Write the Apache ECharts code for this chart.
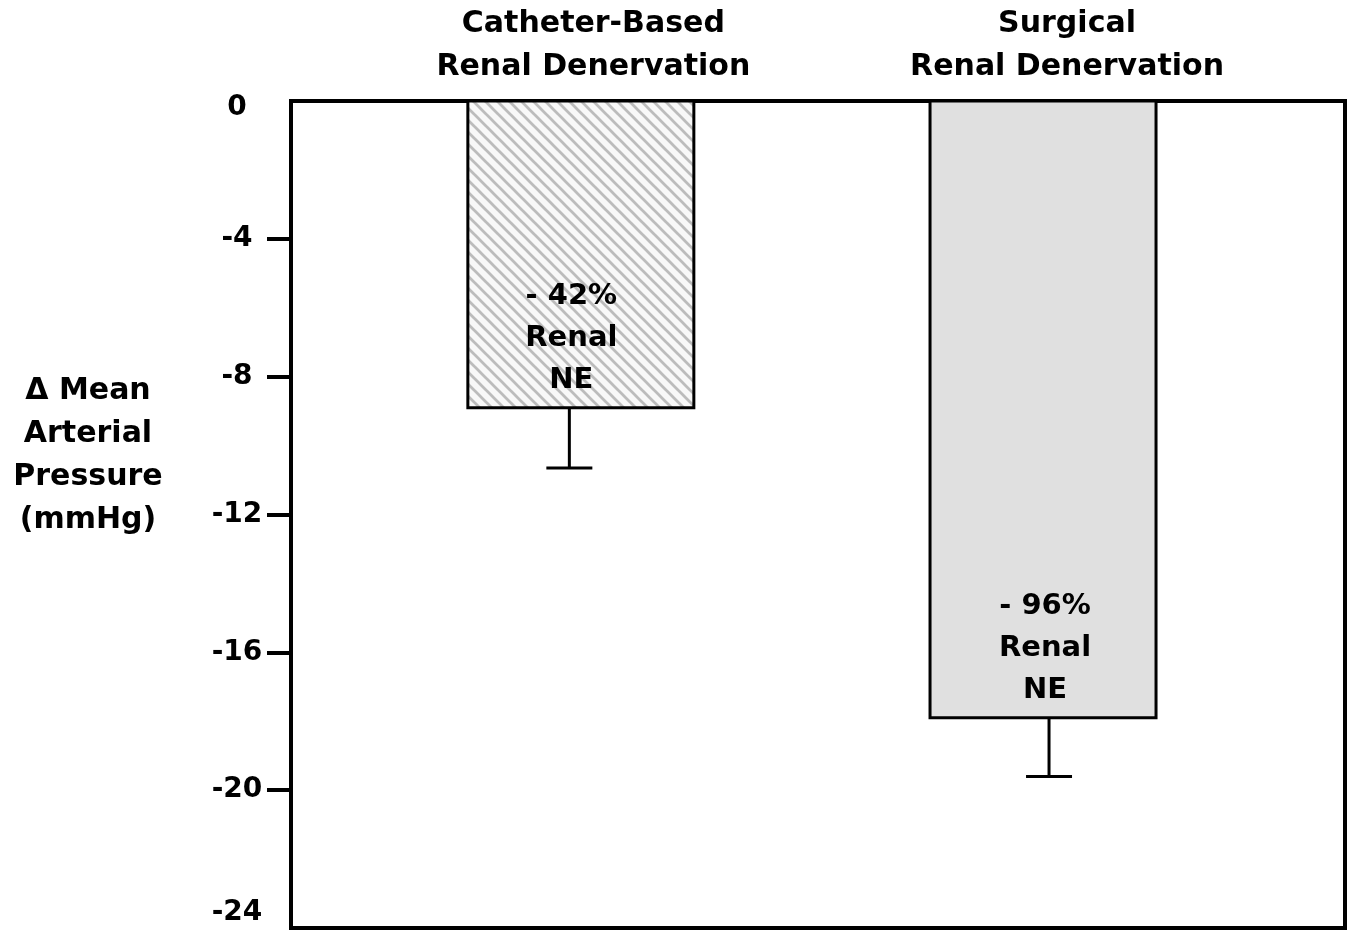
<!DOCTYPE html>
<html>
<head>
<meta charset="utf-8">
<script src="https://cdn.jsdelivr.net/npm/echarts@6/dist/echarts.min.js"></script>
<style>
  html, body { margin: 0; padding: 0; background: #fff; }
  #chart { width: 1350px; height: 930px; }
</style>
</head>
<body>
<div id="chart"></div>
<script>
// Groups shown along the top of the plot
const categories = ['Catheter-Based\nRenal Denervation', 'Surgical\nRenal Denervation'];
// Bar centres on the hidden 0–100 horizontal scale
const groupPos = [27.5, 71.35];
// Change in mean arterial pressure (mmHg) and its error (mmHg)
const meanChange = [-8.9, -17.9];
const errorSize = [1.75, 1.7];
// Reduction of renal norepinephrine written inside each bar
const neReduction = ['- 42%', '- 96%'];
// Y-axis tick values
const yTicks = [0, -4, -8, -12, -16, -20, -24];

const FONT = '"DejaVu Sans", "Liberation Sans", Arial, sans-serif';

// Per-bar pixel nudges for the error bar, inner label and group heading
const layout = {
  barWidth: 226,
  errShift: [-11.5, 6],
  labelShift: [-9.5, 2],
  headShift: [12.5, 24],
  capWidth: 46
};

// Diagonal hatch fill for the catheter-based bar
function hatchPattern() {
  const s = 12;
  const c = document.createElement('canvas');
  c.width = s; c.height = s;
  const g = c.getContext('2d');
  g.fillStyle = '#f8f8f8';
  g.fillRect(0, 0, s, s);
  g.strokeStyle = '#bcbcbc';
  g.lineWidth = 2.7;
  for (const o of [-s, 0, s]) {
    g.beginPath();
    g.moveTo(o - 2, -2);
    g.lineTo(o + s + 2, s + 2);
    g.stroke();
  }
  return c;
}
const fills = [{ image: hatchPattern(), repeat: 'repeat' }, '#e0e0e0'];

const seriesData = categories.map((c, i) => [groupPos[i], meanChange[i], errorSize[i]]);

const chart = echarts.init(document.getElementById('chart'), null, { renderer: 'canvas' });

chart.setOption({
  backgroundColor: '#ffffff',
  animation: false,
  title: {
    text: 'Δ Mean\nArterial\nPressure\n(mmHg)',
    left: 88,
    top: 456,
    padding: 0,
    textAlign: 'center',
    textVerticalAlign: 'middle',
    textStyle: { fontFamily: FONT, fontWeight: 'bold', fontSize: 30, lineHeight: 43, color: '#000' }
  },
  grid: {
    left: 291, top: 101, right: 5, bottom: 2,
    show: true,
    borderWidth: 4,
    borderColor: '#000',
    backgroundColor: 'transparent'
  },
  xAxis: {
    type: 'value', min: 0, max: 100, show: false
  },
  yAxis: {
    type: 'value',
    min: yTicks[yTicks.length - 1],
    max: yTicks[0],
    interval: 4,
    splitLine: { show: false },
    axisLine: { show: false },
    axisTick: {
      show: true, inside: false, length: 24,
      customValues: yTicks.slice(1, -1),
      lineStyle: { color: '#000', width: 4 }
    },
    axisLabel: {
      customValues: yTicks,
      align: 'center',
      margin: 54,
      fontFamily: FONT, fontWeight: 'bold', fontSize: 28, color: '#000',
      formatter: function (v) {
        if (v === yTicks[0]) return '{top|' + v + '}';
        if (v === yTicks[yTicks.length - 1]) return '{bot|' + v + '}';
        return String(v);
      },
      rich: {
        top: { fontFamily: FONT, fontWeight: 'bold', fontSize: 28, color: '#000', padding: [14, 0, 0, 0] },
        bot: { fontFamily: FONT, fontWeight: 'bold', fontSize: 28, color: '#000', padding: [0, 0, 30, 0] }
      }
    }
  },
  series: [{
    type: 'custom',
    clip: false,
    data: seriesData,
    renderItem: function (params, api) {
      const i = params.dataIndex;
      const x = api.value(0);
      const y = api.value(1);
      const err = api.value(2);
      const base = api.coord([x, 0]);
      const end = api.coord([x, y]);
      const errEnd = api.coord([x, y - err]);
      const w = layout.barWidth;
      const ex = end[0] + layout.errShift[i];
      return {
        type: 'group',
        children: [
          {
            type: 'line',
            shape: { x1: ex, y1: end[1], x2: ex, y2: errEnd[1] },
            style: { stroke: '#000', lineWidth: 3 }
          },
          {
            type: 'line',
            shape: { x1: ex - layout.capWidth / 2, y1: errEnd[1], x2: ex + layout.capWidth / 2, y2: errEnd[1] },
            style: { stroke: '#000', lineWidth: 3 }
          },
          {
            type: 'rect',
            shape: { x: base[0] - w / 2, y: base[1], width: w, height: end[1] - base[1] },
            style: { fill: fills[i], stroke: '#000', lineWidth: 3 }
          },
          {
            type: 'text',
            x: end[0] + layout.labelShift[i],
            y: end[1] - 6,
            style: {
              text: neReduction[i] + '\nRenal\nNE',
              align: 'center', verticalAlign: 'bottom',
              fontFamily: FONT, fontWeight: 'bold', fontSize: 29, lineHeight: 42, fill: '#000'
            }
          },
          {
            type: 'text',
            x: base[0] + layout.headShift[i],
            y: base[1] - 12,
            style: {
              text: categories[i],
              align: 'center', verticalAlign: 'bottom',
              fontFamily: FONT, fontWeight: 'bold', fontSize: 30, lineHeight: 43, fill: '#000'
            }
          }
        ]
      };
    }
  }]
});
</script>
</body>
</html>
